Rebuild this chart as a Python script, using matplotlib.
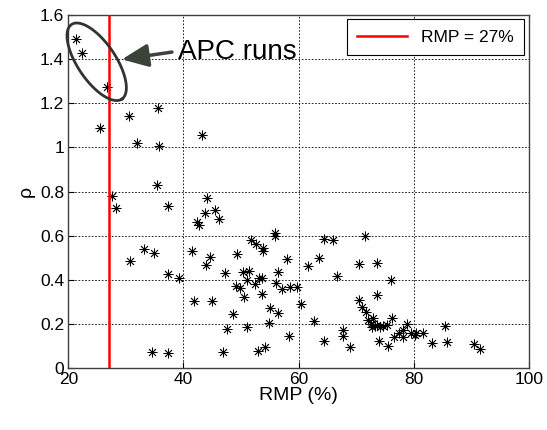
import numpy as np
import matplotlib
matplotlib.use('Agg')
import matplotlib.pyplot as plt

# ---- data ----
rmp = [21.3, 22.3, 26.8, 25.5, 30.6, 35.5, 31.9, 35.8, 43.3, 35.4, 27.6, 44.1,
       28.3, 37.4, 43.8, 42.4, 42.7, 45.5, 46.2,
       30.8, 33.2, 34.9, 37.3, 39.3,
       41.5, 41.8, 44.0, 44.6, 44.9, 47.2, 47.5, 48.6, 46.8,
       49.3, 49.1, 49.8, 50.6, 50.3, 51.4, 51.0, 51.1,
       51.7, 52.6, 52.4, 53.1, 53.6, 53.6, 53.9, 53.9,
       55.0, 54.9, 56.5, 55.9, 55.9, 56.0, 56.4, 57.1,
       58.0, 58.3, 58.5, 59.7, 60.4,
       34.5, 37.3, 52.9, 54.1,
       64.4, 66.0, 63.6, 61.6, 66.7, 62.7, 64.4,
       71.5, 70.5, 73.7, 76.0, 73.7, 70.5, 71.1, 71.8, 72.1, 73.0, 72.7, 73.6,
       74.1, 74.7, 75.4, 76.3, 72.5, 73.3,
       67.7, 67.8, 68.9, 74.0, 75.5, 76.6, 77.5, 78.2, 78.9, 78.1,
       79.6, 80.2, 80.4, 81.6, 85.4, 83.1, 85.8, 90.5, 91.5]
rho = [1.49, 1.43, 1.275, 1.09, 1.14, 1.18, 1.02, 1.006, 1.058, 0.83, 0.78, 0.77,
       0.727, 0.735, 0.703, 0.663, 0.648, 0.716, 0.677,
       0.485, 0.538, 0.523, 0.425, 0.41,
       0.532, 0.305, 0.465, 0.502, 0.305, 0.43, 0.175, 0.243, 0.073,
       0.518, 0.37, 0.364, 0.323, 0.435, 0.44, 0.40, 0.187,
       0.58, 0.56, 0.38, 0.41, 0.41, 0.334, 0.543, 0.53,
       0.273, 0.205, 0.248, 0.61, 0.60, 0.384, 0.435, 0.357,
       0.494, 0.144, 0.367, 0.368, 0.29,
       0.072, 0.069, 0.078, 0.097,
       0.586, 0.58, 0.50, 0.462, 0.417, 0.215, 0.122,
       0.598, 0.471, 0.476, 0.40, 0.331, 0.31, 0.278, 0.255, 0.218, 0.225, 0.187, 0.195,
       0.187, 0.19, 0.195, 0.225, 0.20, 0.19,
       0.172, 0.145, 0.094, 0.124, 0.10, 0.139, 0.16, 0.172, 0.2, 0.142,
       0.16, 0.15, 0.157, 0.157, 0.19, 0.112, 0.118, 0.107, 0.085]
rmp_threshold = 27
legend_label = 'RMP = 27%'
annotation_text = 'APC runs'
x_ticks = [20, 40, 60, 80, 100]
y_ticks = [0, 0.2, 0.4, 0.6, 0.8, 1.0, 1.2, 1.4, 1.6]
y_ticklabels = ['0', '0.2', '0.4', '0.6', '0.8', '1', '1.2', '1.4', '1.6']

plt.rcParams['font.family'] = ['Liberation Sans', 'DejaVu Sans']

fig = plt.figure(figsize=(5.47, 4.3), dpi=100)
ax = fig.add_axes([0.1249, 0.1442, 0.8418, 0.8209])

ax.plot(rmp, rho, linestyle='none', marker=(8, 2, 0), markersize=7,
        color='k', markeredgewidth=0.6, zorder=3)
ax.axvline(rmp_threshold, color='red', lw=1.8, label=legend_label, zorder=4)

ax.set_xlim(20, 100)
ax.set_ylim(0, 1.6)
ax.set_xticks(x_ticks)
ax.set_yticks(y_ticks)
ax.set_yticklabels(y_ticklabels)
ax.grid(True, color='k', linestyle=(0, (2, 2)), linewidth=0.6)
ax.set_axisbelow(True)
ax.tick_params(direction='in', length=4, labelsize=12.5, pad=3)
for s in ax.spines.values():
    s.set_color('#404040')
    s.set_linewidth(1.0)

ax.set_xlabel('RMP (%)', fontsize=14, labelpad=0)
ax.set_ylabel('ρ', fontsize=14, labelpad=4)

leg = ax.legend(loc='upper right', fontsize=12.5, fancybox=False,
                edgecolor='k', framealpha=1, borderaxespad=0.25,
                handlelength=2.9, borderpad=0.6)
leg.get_frame().set_linewidth(0.8)

# ellipse drawn in pixel space, converted to data units
px_per_x = ax.bbox.width / 80.0
px_per_y = ax.bbox.height / 1.6
cx, cy = 24.93, 1.388
a, b, th = 45.0, 19.0, np.deg2rad(-56)
t = np.linspace(0, 2 * np.pi, 200)
dx = a * np.cos(t) * np.cos(th) - b * np.sin(t) * np.sin(th)
dy = a * np.cos(t) * np.sin(th) + b * np.sin(t) * np.cos(th)
ax.plot(cx + dx / px_per_x, cy + dy / px_per_y, color='#2f362f', lw=2.0,
        clip_on=False, zorder=5)

ax.annotate('', xy=(29.3, 1.399), xytext=(38.0, 1.432),
            arrowprops=dict(arrowstyle='-|>,head_width=0.35,head_length=0.8',
                            lw=2.5, color='#3a423a', mutation_scale=20,
                            shrinkA=0, shrinkB=0), zorder=5)
ax.text(39.1, 1.432, annotation_text, fontsize=20, ha='left', va='center',
        color='k', zorder=5)

fig.savefig('out.png', dpi=100)
